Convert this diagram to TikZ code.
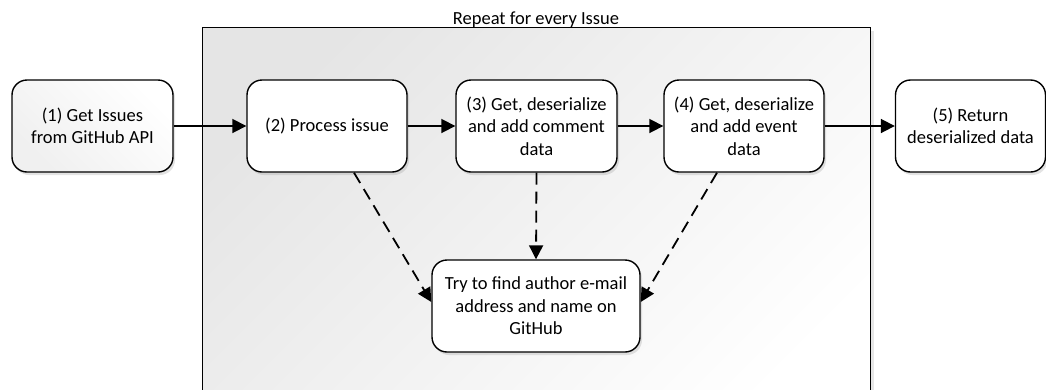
\documentclass[tikz,border=0pt]{standalone}
\usepackage{fontspec}
\setmainfont{Carlito}
\usetikzlibrary{arrows.meta,shadows,calc}
\begin{document}
\begin{tikzpicture}[x=1pt,y=-1pt,
  font=\fontsize{18.5}{22.5}\selectfont,
  box/.style={draw=black, line width=1.4pt, rounded corners=15pt, fill=white,
    minimum width=161pt, minimum height=92pt, align=center, inner sep=2pt,
    drop shadow={opacity=0.22, shadow xshift=2pt, shadow yshift=-3pt}},
  frame/.style={draw=black, line width=1.4pt, anchor=north west,
    top color=black!10, bottom color=white, shading angle=45,
    drop shadow={opacity=0.2, shadow xshift=3pt, shadow yshift=-3pt}},
  flow/.style={line width=1.8pt, -{Triangle[length=14pt,width=14pt]}},
  dflow/.style={flow, dash pattern=on 12pt off 7pt}]
\useasboundingbox (0,0) rectangle (1046,389);
\clip (0,0) rectangle (1046,389);
% container
\node[frame, minimum width=668pt, minimum height=420pt] (loop) at (202,27) {};
\node[anchor=base] (looptitle) at (536,24) {Repeat for every Issue};
% boxes
\node[box, top color=white, bottom color=black!6, shading angle=-45] (p1) at (92.5,126) {(1) Get Issues\\from GitHub API};
\node[box, minimum width=160pt] (p2) at (327,126) {(2) Process issue};
\node[box] (p3) at (536.5,126) {(3) Get, deserialize\\and add comment\\data};
\node[box, minimum width=160pt] (p4) at (744,126) {(4) Get, deserialize\\and add event\\data};
\node[box, minimum width=150pt] (p5) at (970.5,126) {(5) Return\\deserialized data};
\node[box, minimum width=208pt] (find) at (536,306) {Try to find author e-mail\\address and name on\\GitHub};
% connectors
\draw[flow] (p1) -- (p2);
\draw[flow] (p2) -- (p3);
\draw[flow] (p3) -- (p4);
\draw[flow] (p4) -- (p5);
\draw[dflow] ($(p2.south)+(27,0)$) -- ($(find.west)+(0,-4)$);
\draw[dflow] (p3.south) -- (find.north);
\draw[dflow] ($(p4.south)+(-27,0)$) -- ($(find.east)+(0,-4)$);
\end{tikzpicture}
\end{document}
